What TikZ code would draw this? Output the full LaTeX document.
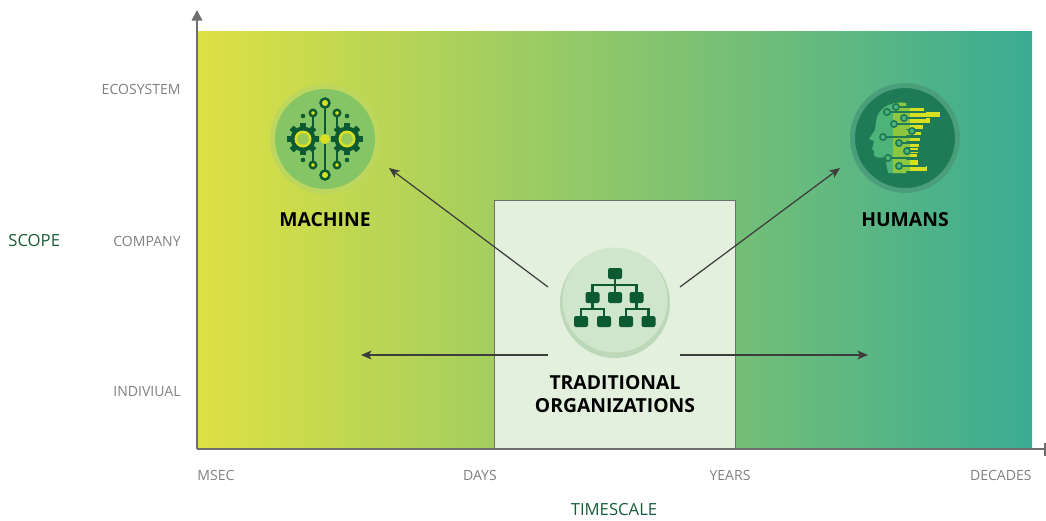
\documentclass[tikz,border=0pt]{standalone}
\usepackage{fontspec}
\setmainfont{Open Sans}
\usepackage{tikz}
\usetikzlibrary{arrows, arrows.meta, positioning, calc}

\definecolor{axisgray}{HTML}{6E6E6E}
\definecolor{lblgray}{HTML}{808080}
\definecolor{arrowgray}{HTML}{3C3C3C}
\definecolor{scopegreen}{HTML}{185C3B}
\definecolor{leafgreen}{HTML}{0B5A32}
\definecolor{bandyellow}{HTML}{DEE143}
\definecolor{bandmid}{HTML}{A3C86C}
\definecolor{bandteal}{HTML}{3AAC93}
\definecolor{boxfill}{HTML}{E3F0DE}
\definecolor{machfill}{HTML}{86C566}
\definecolor{machring}{HTML}{BCD65E}
\definecolor{iconyellow}{HTML}{D9E021}
\definecolor{humfill}{HTML}{1E7B55}
\definecolor{humring}{HTML}{4A9E7A}
\definecolor{headgreen}{HTML}{4DB479}
\definecolor{headlime}{HTML}{8DC63F}
\definecolor{tradfill}{HTML}{D0E6CC}
\definecolor{tradshade}{HTML}{BCD8B8}

\tikzstyle{YLBL}    = [anchor=east, text=lblgray, inner sep=0pt,
                       font=\fontsize{8}{0}\selectfont]
\tikzstyle{XLBL}    = [text=lblgray, inner sep=0pt,
                       font=\fontsize{8}{0}\selectfont]
\tikzstyle{AXTITLE} = [text=scopegreen, inner sep=0pt,
                       font=\fontsize{9.5}{0}\selectfont]
\tikzstyle{TITLE}   = [align=center, inner sep=0pt,
                       font=\bfseries\fontsize{11}{13}\selectfont]
\tikzstyle{ICON}    = [circle, minimum size=2.1cm, inner sep=0pt,
                       line width=2.8pt]
\tikzstyle{ORGBOX}  = [fill=leafgreen, rounded corners=1.2pt]
\tikzstyle{WIRE}    = [draw=leafgreen, line width=1.4pt]
\tikzstyle{ARROW}   = [draw=arrowgray, line width=0.7pt, ->,
                       >={Stealth[length=6pt, width=5pt, inset=1.5pt]}]

\begin{document}
\begin{tikzpicture}[x=0.02cm, y=-0.02cm]
		
		\useasboundingbox (0,0) rectangle (1046,521);
		
		% Background band
		\shade[left color=bandyellow, middle color=bandmid, right color=bandteal]
		(197,31) rectangle (1032,449);
		
		% Traditional window
		\node(window)[draw=axisgray, line width=0.8pt, fill=boxfill, anchor=south west,
		minimum width=4.82cm, minimum height=4.96cm, inner sep=0pt] at (494,449) {};
		
		% Axes
		\draw[axisgray, line width=0.9pt, -{Triangle[width=6pt, length=6pt]}] (197,449) -- (197,10);
		\draw[axisgray, line width=0.9pt] (197,449) -- (1045,449);
		\draw[axisgray, line width=0.9pt] (1045,443) -- (1045,456);
		
		
		
		
		% Machine icon
		\node(machine)[ICON, draw=machring, fill=machfill] at (325,139) {};
		\begin{scope}[shift={(machine.center)}]
			\foreach \gx in {-22,22}{
				\begin{scope}[xshift=\gx*0.02cm]
					\foreach \a in {0,45,...,315}
					\fill[leafgreen, rotate=\a] (-3,-16) rectangle (3,-9);
					\fill[leafgreen] (0,0) circle (12.5);
					\fill[iconyellow] (0,0) circle (8.5);
					\fill[machfill!80!iconyellow] (0,0) circle (5.8);
				\end{scope}
			}
			\draw[WIRE] (0,-32) -- (0,32);
			\draw[WIRE] (-12,-23) -- (-12,-11);
			\draw[WIRE] (12,-23) -- (12,-11);
			\draw[WIRE] (-12,23) -- (-12,11);
			\draw[WIRE] (12,23) -- (12,11);
			\fill[iconyellow] (0,0) circle (5);
			\filldraw[WIRE, fill=iconyellow] (0,-36) circle (4.5);
			\filldraw[WIRE, fill=iconyellow] (0,36) circle (4.5);
			\foreach \sx in {-12,12}{
				\filldraw[WIRE, fill=iconyellow] (\sx,-26) circle (3.2);
				\filldraw[WIRE, fill=iconyellow] (\sx,26) circle (3.2);
			}
			\foreach \dx/\dy in {-22/-23,22/-23,-22/21,22/21}
			\fill[leafgreen] (\dx,\dy) circle (2.3);
		\end{scope}
		\node(machlbl)[TITLE, below of = machine, node distance = 1.62cm] {MACHINE};
		
		
		
		
		% Humans icon
		\node(humans)[ICON, draw=humring, fill=humfill] at (905,138) {};
		\def\headpath{(906,103) .. controls (889,101) and (877,109) .. (876,122)
			-- (875,130) -- (869,139) -- (874,141) -- (873,146) -- (872,149) -- (874,151)
			-- (874,155) .. controls (875,158) and (880,158) .. (885,157)
			-- (888,173) -- (906,173) -- cycle}
		\fill[headgreen] \headpath;
		\begin{scope}
			\clip \headpath;
			\fill[headlime] (893,100) rectangle (910,175);
		\end{scope}
		\foreach \y/\e in {106/924,112/940,118/930,124/923,130/921,136/920,
			142/919,148/918,154/917,160/918,166/927}{
			\fill[headlime] (900,\y) rectangle (910,\y+5);
			\fill[iconyellow] (910,\y) rectangle (\e,\y+5);
		}
		\foreach \cx/\cy in {887/112,896/107,904/118,894/124,912/131,
			883/137,899/143,907/151,888/158,899/166}{
			\draw[humfill, line width=0.9pt] (\cx+3,\cy) -- (926,\cy);
			\draw[humfill, line width=0.9pt, fill=headgreen] (\cx,\cy) circle (3.2);
		}
		\node(humlbl)[TITLE, below of = humans, node distance = 1.64cm] {HUMANS};
		
		
		
		
		% Traditional organizations icon
		\fill[tradshade] (615,303) circle (55);
		\node(trad)[ICON, fill=tradfill] at (615,300) {};
		\fill[ORGBOX] (608,268) rectangle (622,279);
		\foreach \x in {592.5,615,636.5}
		\fill[ORGBOX] (\x-7,292) rectangle (\x+7,303);
		\foreach \x in {581,604,626,648.5}
		\fill[ORGBOX] (\x-7,316) rectangle (\x+7,327);
		\draw[WIRE] (615,279) -- (615,292);
		\draw[WIRE] (592.5,292) |- (636.5,285) -- (636.5,292);
		\draw[WIRE] (592.5,303) -- (592.5,309);
		\draw[WIRE] (581,316) |- (604,309) -- (604,316);
		\draw[WIRE] (636.5,303) -- (636.5,309);
		\draw[WIRE] (626,316) |- (648.5,309) -- (648.5,316);
		\node(tradlbl)[TITLE, below of = trad, node distance = 1.88cm]
		{TRADITIONAL\\ORGANIZATIONS};
		
		
		
		
		% Arrows out of the traditional window
		\coordinate (mstart) at (548,287);
		\coordinate (mend)   at (389,168);
		\coordinate (hstart) at (680,287);
		\coordinate (hend)   at (840,168);
		\coordinate (lstart) at (548,355);
		\coordinate (lend)   at (361,355);
		\coordinate (rstart) at (680,355);
		\coordinate (rend)   at (868,355);
		\draw[ARROW] (mstart) -- (mend);
		\draw[ARROW] (hstart) -- (hend);
		\draw[ARROW] (lstart) -- (lend);
		\draw[ARROW] (rstart) -- (rend);
		
		
		
		
		% Scope labels
		\node(eco)[YLBL] at (181,89) {ECOSYSTEM};
		\node(comp)[YLBL] at (181,241) {COMPANY};
		\node(indiv)[YLBL] at (181,392) {INDIVIUAL};
		\node(scope)[AXTITLE, anchor=west] at (8,241) {SCOPE};
		
		% Timescale labels
		\node(msec)[XLBL, anchor=west] at (197,475) {MSEC};
		\node(days)[XLBL] at (480,475) {DAYS};
		\node(years)[XLBL] at (730,475) {YEARS};
		\node(decades)[XLBL, anchor=east] at (1032,475) {DECADES};
		\node(timescale)[AXTITLE] at (614,510) {TIMESCALE};
		
\end{tikzpicture}
\end{document}
